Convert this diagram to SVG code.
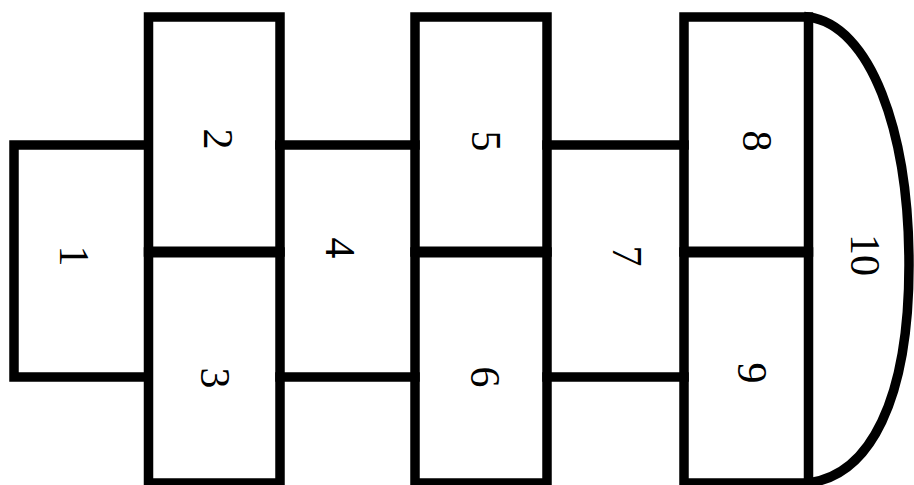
<svg xmlns="http://www.w3.org/2000/svg" width="914" height="485" viewBox="0 0 914 485">
<style>
.b{fill:none;stroke:#000;stroke-width:9.5;stroke-linecap:square}
.m{fill:none;stroke:#000;stroke-width:11}
.t{font-family:"Liberation Serif","Times New Roman",serif;font-size:42px;fill:#000;text-anchor:middle}
</style>
<rect width="914" height="485" fill="#fff"/>
<g id="connectors"></g>
<g id="box1"><path class="b" d="M148,145 H14 V377 H148"/><text class="t" transform="translate(74,256) rotate(90)" y="14">1</text></g>
<g id="box2"><rect class="b" x="148.5" y="17" width="131.5" height="235"/><text class="t" transform="translate(218,139) rotate(90)" y="14">2</text></g>
<g id="box3"><rect class="b" x="148.5" y="252" width="131.5" height="231"/><path class="m" d="M148.5,252 H280"/><text class="t" transform="translate(215,378) rotate(90)" y="14">3</text></g>
<g id="box4"><path class="b" d="M280,145 H415 M280,377 H415"/><text class="t" transform="translate(340,248) rotate(90)" y="14">4</text></g>
<g id="box5"><rect class="b" x="415" y="17" width="132" height="235"/><text class="t" transform="translate(486,141) rotate(90)" y="14">5</text></g>
<g id="box6"><rect class="b" x="415" y="252" width="132" height="231"/><path class="m" d="M415,252 H547"/><text class="t" transform="translate(485,377) rotate(90)" y="14">6</text></g>
<g id="box7"><path class="b" d="M547,145 H684 M547,377 H684"/><text class="t" transform="translate(627,256) rotate(90)" y="14">7</text></g>
<g id="box8"><rect class="b" x="684" y="17" width="124.5" height="235"/><text class="t" transform="translate(757,141) rotate(90)" y="14">8</text></g>
<g id="box9"><rect class="b" x="684" y="252" width="124.5" height="231"/><path class="m" d="M684,252 H808.5"/><text class="t" transform="translate(752,373) rotate(90)" y="14">9</text></g>
<g id="box10"><path class="b" d="M808.5,17 C870,25 909,130 909,265 C909,400 870,475 808.5,483"/><text class="t" transform="translate(865,255) rotate(90)" y="14">10</text></g>
</svg>
